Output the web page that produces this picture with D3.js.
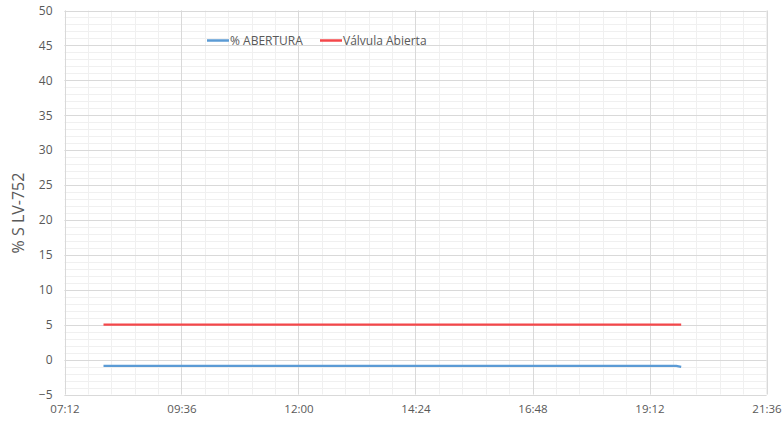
<!DOCTYPE html>
<html>
<head>
<meta charset="utf-8">
<script src="https://cdn.jsdelivr.net/npm/d3@7"></script>
<style>
  html, body { margin: 0; padding: 0; background: #fff; }
  svg { display: block; font-family: "Open Sans", "Liberation Sans", sans-serif; }
</style>
</head>
<body>
<svg id="chart" width="783" height="421"></svg>
<script>
// Series: level valve LV-752 opening and the "open" reference, times in hours of day
const aberturaTimes  = [8.0, 12.0, 16.0, 19.75, 19.85];
const aberturaValues = [-0.9, -0.9, -0.9, -0.9, -1.05];
const abiertaTimes   = [8.0, 19.85];
const abiertaValues  = [5, 5];

const seriesNames = ["% ABERTURA", "Válvula Abierta"];
const seriesColors = ["#5b9bd5", "#f4474a"];

const xTickHours = [7.2, 9.6, 12.0, 14.4, 16.8, 19.2, 21.6];
const yTickValues = [-5, 0, 5, 10, 15, 20, 25, 30, 35, 40, 45, 50];
const yTitle = "% S LV-752";

const svg = d3.select("#chart");
const m = { left: 64.5, right: 766.5, top: 10.5, bottom: 394.5 };

const x = d3.scaleLinear().domain([7.2, 21.6]).range([m.left, m.right]);
const y = d3.scaleLinear().domain([-5, 50]).range([m.bottom, m.top]);

const fmtTime = h => {
  const total = Math.round(h * 60);
  const hh = Math.floor(total / 60), mm = total % 60;
  return String(hh).padStart(2, "0") + ":" + String(mm).padStart(2, "0");
};

// minor grid
const xMinor = d3.range(0, 31).map(i => 7.2 + i * 0.48);
const yMinor = d3.range(-5, 51, 1);
const grid = svg.append("g");
grid.selectAll("line.ymin").data(yMinor).join("line")
  .attr("x1", m.left).attr("x2", m.right)
  .attr("y1", d => Math.round(y(d)) + 0.5).attr("y2", d => Math.round(y(d)) + 0.5)
  .attr("stroke", "#f0f0f0").attr("stroke-width", 1);
grid.selectAll("line.xmin").data(xMinor).join("line")
  .attr("y1", m.top).attr("y2", m.bottom)
  .attr("x1", d => Math.round(x(d)) + 0.5).attr("x2", d => Math.round(x(d)) + 0.5)
  .attr("stroke", "#f0f0f0").attr("stroke-width", 1);

// major grid
grid.selectAll("line.ymaj").data(yTickValues).join("line")
  .attr("x1", m.left).attr("x2", m.right)
  .attr("y1", d => Math.round(y(d)) + 0.5).attr("y2", d => Math.round(y(d)) + 0.5)
  .attr("stroke", "#d9d9d9").attr("stroke-width", 1);
grid.selectAll("line.xmaj").data(xTickHours).join("line")
  .attr("y1", m.top).attr("y2", m.bottom)
  .attr("x1", d => Math.round(x(d)) + 0.5).attr("x2", d => Math.round(x(d)) + 0.5)
  .attr("stroke", "#d9d9d9").attr("stroke-width", 1);

// axes labels
const yAxis = d3.axisLeft(y).tickValues(yTickValues).tickSize(0).tickPadding(12);
svg.append("g").attr("transform", `translate(${m.left},0)`).call(yAxis)
  .call(g => g.select(".domain").remove())
  .call(g => g.selectAll("text").attr("fill", "#595959").style("font-size", "12px")
    .style("font-family", "'Open Sans', 'Liberation Sans', sans-serif"));

const xAxis = d3.axisBottom(x).tickValues(xTickHours).tickFormat(fmtTime).tickSize(0).tickPadding(10);
svg.append("g").attr("transform", `translate(0,${m.bottom})`).call(xAxis)
  .call(g => g.select(".domain").remove())
  .call(g => g.selectAll("text").attr("fill", "#595959").style("font-size", "11.5px")
    .style("font-family", "'Open Sans', 'Liberation Sans', sans-serif"));

svg.append("text")
  .attr("transform", `translate(24,213) rotate(-90)`)
  .attr("text-anchor", "middle")
  .attr("fill", "#595959")
  .style("font-size", "16px")
  .text(yTitle);

// series lines
const line = d3.line().x(d => x(d[0])).y(d => y(d[1]));
svg.append("path")
  .datum(d3.zip(aberturaTimes, aberturaValues))
  .attr("d", line).attr("fill", "none")
  .attr("stroke", seriesColors[0]).attr("stroke-width", 2.25);
svg.append("path")
  .datum(d3.zip(abiertaTimes, abiertaValues))
  .attr("d", line).attr("fill", "none")
  .attr("stroke", seriesColors[1]).attr("stroke-width", 2.25);

// legend
const legendItems = [
  { name: seriesNames[0], color: seriesColors[0], x0: 207 },
  { name: seriesNames[1], color: seriesColors[1], x0: 320 }
];
const lg = svg.append("g");
legendItems.forEach(it => {
  lg.append("line").attr("x1", it.x0).attr("x2", it.x0 + 22)
    .attr("y1", 40.5).attr("y2", 40.5)
    .attr("stroke", it.color).attr("stroke-width", 2.5);
  lg.append("text").attr("x", it.x0 + 23).attr("y", 45)
    .attr("fill", "#595959").style("font-size", "12px").text(it.name);
});
</script>
</body>
</html>
